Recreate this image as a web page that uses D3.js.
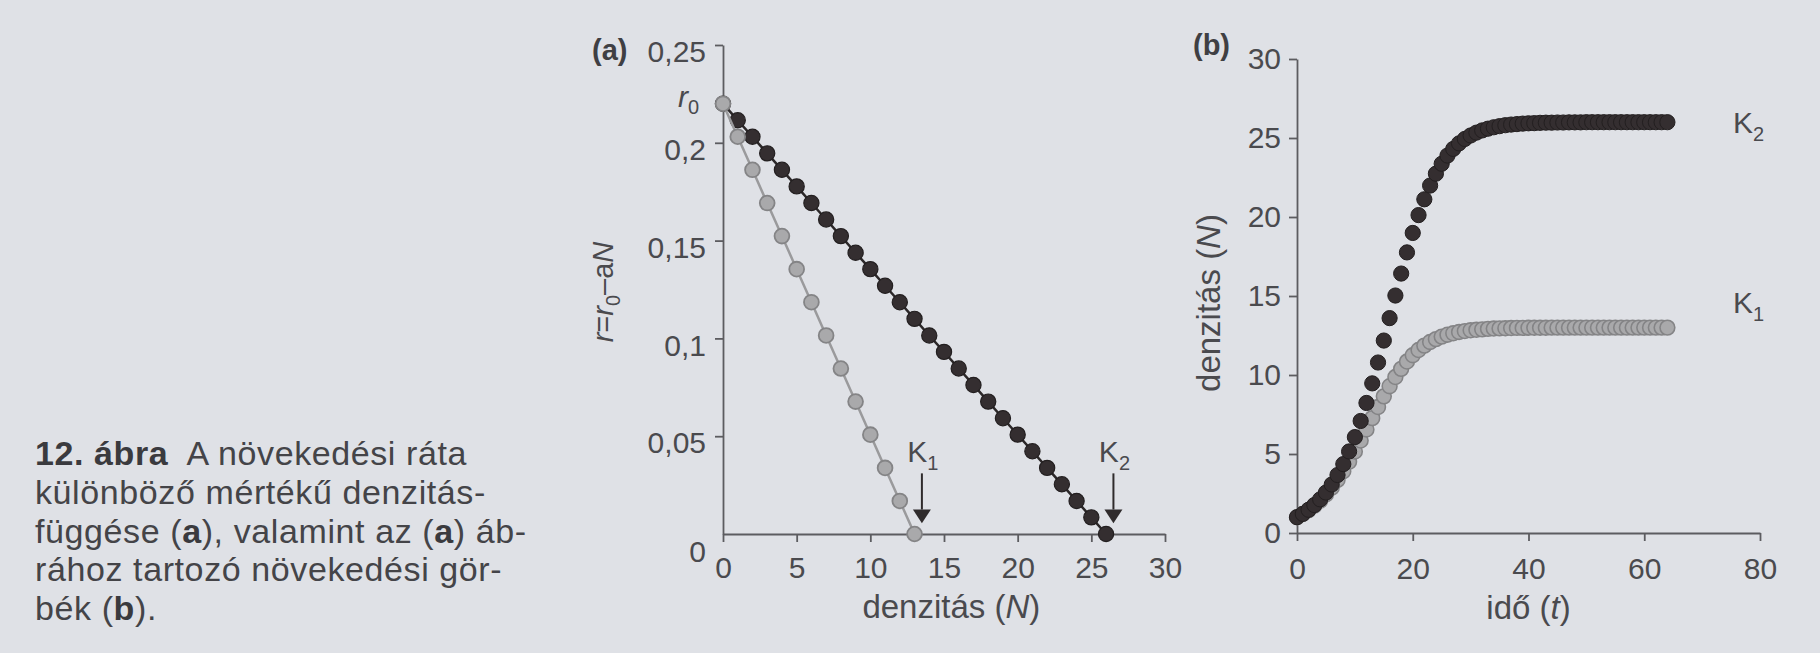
<!DOCTYPE html>
<html><head><meta charset="utf-8">
<script src="https://cdn.jsdelivr.net/npm/d3@7"></script>
<style>
html,body{margin:0;padding:0;background:#dfe1e6;}
svg{display:block;font-family:"Liberation Sans",Arial,Helvetica,sans-serif;}
</style></head><body>
<svg id="c" width="1820" height="653"></svg>
<script>
// ---------- data ----------
const rateN_K1 = [0,1,2,3,4,5,6,7,8,9,10,11,12,13];
const rate_K1  = [0.22,0.2031,0.1862,0.1692,0.1523,0.1354,0.1185,0.1015,0.0846,0.0677,0.0508,0.0338,0.0169,0];
const rateN_K2 = [0,1,2,3,4,5,6,7,8,9,10,11,12,13,14,15,16,17,18,19,20,21,22,23,24,25,26];
const rate_K2  = [0.22,0.2115,0.2031,0.1946,0.1862,0.1777,0.1692,0.1608,0.1523,0.1438,0.1354,0.1269,0.1185,0.11,
                  0.1015,0.0931,0.0846,0.0762,0.0677,0.0592,0.0508,0.0423,0.0338,0.0254,0.0169,0.0085,0];
const rateTicks = [0,0.05,0.1,0.15,0.2,0.25];
const rateTickLabels = ["0","0,05","0,1","0,15","0,2","0,25"];
const densTicks = [0,5,10,15,20,25,30];
const arrowsA = [{N:13.5, label:"1"},{N:26.5, label:"2"}];

const time = [0,1,2,3,4,5,6,7,8,9,10,11,12,13,14,15,16,17,18,19,20,21,22,23,24,25,26,27,28,29,30,31,32,
              33,34,35,36,37,38,39,40,41,42,43,44,45,46,47,48,49,50,51,52,53,54,55,56,57,58,59,60,61,62,63,64];
const growth_K2 = [1.00,1.21,1.47,1.77,2.13,2.56,3.07,3.67,4.36,5.16,6.07,7.09,8.23,9.47,10.79,12.18,13.60,
                   15.03,16.42,17.76,18.99,20.12,21.12,21.99,22.74,23.37,23.89,24.31,24.66,24.94,25.16,25.34,
                   25.48,25.59,25.68,25.75,25.81,25.85,25.88,25.91,25.93,25.94,25.96,25.97,25.97,25.98,25.98,
                   25.99,25.99,25.99,26.00,26.00,26.00,26.00,26.00,26.00,26.00,26.00,26.00,26.00,26.00,26.00,
                   26.00,26.00,26.00];
const growth_K1 = [1.00,1.20,1.44,1.73,2.05,2.44,2.87,3.36,3.91,4.51,5.16,5.85,6.55,7.27,7.97,8.65,9.29,
                   9.87,10.39,10.85,11.25,11.58,11.86,12.09,12.27,12.43,12.55,12.64,12.72,12.78,12.83,12.86,
                   12.89,12.92,12.94,12.95,12.96,12.97,12.98,12.98,12.99,12.99,12.99,12.99,13.00,13.00,13.00,
                   13.00,13.00,13.00,13.00,13.00,13.00,13.00,13.00,13.00,13.00,13.00,13.00,13.00,13.00,13.00,
                   13.00,13.00,13.00];
const timeTicks = [0,20,40,60,80];
const growthTicks = [0,5,10,15,20,25,30];

const captionLines = [
  [{t:"12. ábra",b:true},{t:"  A növekedési ráta"}],
  [{t:"különböző mértékű denzitás-"}],
  [{t:"függése ("},{t:"a",b:true},{t:"), valamint az ("},{t:"a",b:true},{t:") áb-"}],
  [{t:"rához tartozó növekedési gör-"}],
  [{t:"bék ("},{t:"b",b:true},{t:")."}]
];

// ---------- styles ----------
const TXT = "#4a4a4e", AX = "#5c5c60";
const DARK = "#342e30", DARKS = "#231f20", GRAY = "#a9a9ab", GRAYS = "#848486";
const FS = 30, TFS = 33;

const svg = d3.select("#c");
svg.append("rect").attr("width",1820).attr("height",653).attr("fill","#dfe1e6");

function styleAxis(g){
  g.selectAll("path.domain").attr("stroke",AX).attr("stroke-width",1.8);
  g.selectAll(".tick line").attr("stroke",AX).attr("stroke-width",1.8);
  g.selectAll(".tick text").attr("fill",TXT).style("font-size",FS+"px")
   .style("font-family","'Liberation Sans',Arial,sans-serif");
}

// ---------- caption ----------
const cap = svg.append("text").attr("x",35).attr("fill","#444448").style("font-size","34px")
  .style("letter-spacing","0.6px");
captionLines.forEach((line,i)=>{
  line.forEach((seg,j)=>{
    const ts = cap.append("tspan").text(seg.t).attr("xml:space","preserve")
      .style("white-space","pre");
    if(j===0) ts.attr("x",35).attr("y",465+i*38.8);
    if(seg.b) ts.attr("font-weight","bold").attr("fill","#3a3a3e");
  });
});

// ---------- panel a ----------
const xA = d3.scaleLinear().domain([0,30]).range([723,1165]);
const yA = d3.scaleLinear().domain([0,0.25]).range([534,45]);

const gxA = svg.append("g").attr("transform",`translate(0,${yA(0)})`)
  .call(d3.axisBottom(xA).tickValues(densTicks).tickSize(8).tickSizeOuter(0).tickPadding(15));
styleAxis(gxA);
const gyA = svg.append("g").attr("transform",`translate(${xA(0)},0)`)
  .call(d3.axisLeft(yA).tickValues(rateTicks).tickSize(8).tickSizeOuter(0).tickPadding(9)
        .tickFormat((d,i)=>rateTickLabels[i]));
styleAxis(gyA);
gyA.selectAll(".tick text").attr("transform",d=>d===0?"translate(0,18)":"translate(0,7)");
gyA.selectAll(".tick").filter(d=>d===0).select("line").remove();

const lineA = d3.line().x(d=>xA(d[0])).y(d=>yA(d[1]));
const darkA = rateN_K2.map((n,i)=>[n,rate_K2[i]]);
const grayA = rateN_K1.map((n,i)=>[n,rate_K1[i]]);
svg.append("path").attr("d",lineA(darkA)).attr("fill","none").attr("stroke","#2c2829").attr("stroke-width",2.5);
svg.append("g").selectAll("circle").data(darkA).join("circle")
  .attr("cx",d=>xA(d[0])).attr("cy",d=>yA(d[1])).attr("r",7.6)
  .attr("fill",DARK).attr("stroke",DARKS).attr("stroke-width",1.2);
svg.append("path").attr("d",lineA(grayA)).attr("fill","none").attr("stroke","#9a9a9c").attr("stroke-width",2.5);
svg.append("g").selectAll("circle").data(grayA).join("circle")
  .attr("cx",d=>xA(d[0])).attr("cy",d=>yA(d[1])).attr("r",7.4)
  .attr("fill",GRAY).attr("stroke",GRAYS).attr("stroke-width",1.8);

// arrows and K labels
arrowsA.forEach(a=>{
  const x = xA(a.N);
  svg.append("line").attr("x1",x).attr("x2",x).attr("y1",yA(0.031)).attr("y2",yA(0.0125))
    .attr("stroke","#2f2b2c").attr("stroke-width",2);
  svg.append("path").attr("d",`M${x-9},${yA(0.0125)} L${x+9},${yA(0.0125)} L${x},${yA(0.0055)} Z`)
    .attr("fill","#2f2b2c");
  const t = svg.append("text").attr("x",x+1).attr("y",yA(0.031)-11).attr("text-anchor","middle")
    .attr("fill",TXT).style("font-size",FS+"px");
  t.append("tspan").text("K");
  t.append("tspan").text(a.label).style("font-size","20px").attr("dy",8);
});

// r0 label
const r0 = svg.append("text").attr("x",699).attr("y",yA(0.22)+3).attr("text-anchor","end")
  .attr("fill",TXT).style("font-size",FS+"px");
r0.append("tspan").text("r").attr("font-style","italic");
r0.append("tspan").text("0").style("font-size","20px").attr("dy",7);

// y label a
const yla = svg.append("text").attr("transform",`translate(613,292) rotate(-90)`)
  .attr("text-anchor","middle").attr("fill",TXT).style("font-size","29px");
yla.append("tspan").text("r").attr("font-style","italic");
yla.append("tspan").text("=");
yla.append("tspan").text("r").attr("font-style","italic");
yla.append("tspan").text("0").style("font-size","20px").attr("dy",7);
yla.append("tspan").text("–a").attr("dy",-7);
yla.append("tspan").text("N").attr("font-style","italic");

// x label a
const xla = svg.append("text").attr("x",xA(15.5)).attr("y",618).attr("text-anchor","middle")
  .attr("fill",TXT).style("font-size",TFS+"px");
xla.append("tspan").text("denzitás (");
xla.append("tspan").text("N").attr("font-style","italic");
xla.append("tspan").text(")");

// panel label a
svg.append("text").attr("x",592).attr("y",60).attr("fill","#3f3f43").attr("font-weight","bold")
  .style("font-size","29px").text("(a)");

// ---------- panel b ----------
const xB = d3.scaleLinear().domain([0,80]).range([1297,1760]);
const yB = d3.scaleLinear().domain([0,30]).range([533,59]);

const gxB = svg.append("g").attr("transform",`translate(0,${yB(0)})`)
  .call(d3.axisBottom(xB).tickValues(timeTicks).tickSize(8).tickSizeOuter(0).tickPadding(17));
styleAxis(gxB);
const gyB = svg.append("g").attr("transform",`translate(${xB(0)},0)`)
  .call(d3.axisLeft(yB).tickValues(growthTicks).tickSize(8).tickSizeOuter(0).tickPadding(8));
styleAxis(gyB);

const grayB = time.map((t,i)=>[t,growth_K1[i]]);
const darkB = time.map((t,i)=>[t,growth_K2[i]]);
svg.append("g").selectAll("circle").data(grayB).join("circle")
  .attr("cx",d=>xB(d[0])).attr("cy",d=>yB(d[1])).attr("r",7.4)
  .attr("fill",GRAY).attr("stroke",GRAYS).attr("stroke-width",1.6);
svg.append("g").selectAll("circle").data(darkB).join("circle")
  .attr("cx",d=>xB(d[0])).attr("cy",d=>yB(d[1])).attr("r",7.6)
  .attr("fill",DARK).attr("stroke",DARKS).attr("stroke-width",1);

// K labels b
[{k:"2",v:26,off:11},{k:"1",v:13,off:-15}].forEach(o=>{
  const t = svg.append("text").attr("x",1733).attr("y",yB(o.v)+o.off).attr("fill",TXT).style("font-size",FS+"px");
  t.append("tspan").text("K");
  t.append("tspan").text(o.k).style("font-size","20px").attr("dy",8);
});

// y label b
const ylb = svg.append("text").attr("transform",`translate(1220,303) rotate(-90)`)
  .attr("text-anchor","middle").attr("fill",TXT).style("font-size",TFS+"px");
ylb.append("tspan").text("denzitás (");
ylb.append("tspan").text("N").attr("font-style","italic");
ylb.append("tspan").text(")");

// x label b
const xlb = svg.append("text").attr("x",xB(40)).attr("y",619).attr("text-anchor","middle")
  .attr("fill",TXT).style("font-size",TFS+"px");
xlb.append("tspan").text("idő (");
xlb.append("tspan").text("t").attr("font-style","italic");
xlb.append("tspan").text(")");

svg.append("text").attr("x",1193).attr("y",55).attr("fill","#3f3f43").attr("font-weight","bold")
  .style("font-size","29px").text("(b)");
</script>
</body></html>
